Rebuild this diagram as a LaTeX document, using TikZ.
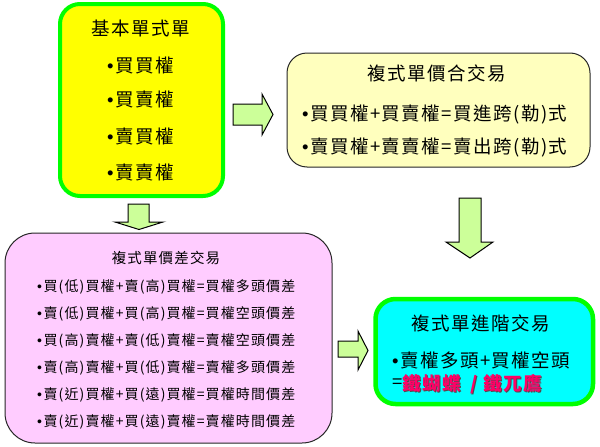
\documentclass[tikz,border=0pt]{standalone}
\usepackage{fontspec}
\newfontfamily\cjk[LetterSpace=8]{Noto Sans CJK TC}
\newfontfamily\latinfont{Liberation Sans}
\newcommand{\bul}{{\latinfont •}\kern1.5pt}
\definecolor{brightgreen}{RGB}{0,255,0}
\definecolor{boxyellow}{RGB}{255,255,0}
\definecolor{paleyellow}{RGB}{255,255,190}
\definecolor{boxpink}{RGB}{255,204,255}
\definecolor{boxcyan}{RGB}{0,255,255}
\definecolor{arrowgreen}{RGB}{204,255,153}
\definecolor{redtext}{RGB}{255,0,102}
\tikzset{
  box/.style={rectangle, inner sep=0pt, rounded corners=#1},
  greenbox/.style={box=20pt, draw=brightgreen, line width=4pt},
  thinbox/.style={box=#1, draw=black!85, line width=1pt},
  barrow/.style={fill=arrowgreen, draw=black, line width=1pt, line join=miter},
  big/.style={inner sep=0pt, font=\cjk\fontsize{18.5}{20}\selectfont},
  small/.style={inner sep=0pt, font=\cjk\fontsize{14}{16}\selectfont},
  smalltitle/.style={inner sep=0pt, font=\cjk\fontsize{14.5}{16}\selectfont},
}
\newcommand{\irontext}{\bfseries 鐵蝴蝶\hspace{9pt}/\hspace{6pt}鐵兀鷹}
\begin{document}
\begin{tikzpicture}[x=1pt,y=-1pt]
\useasboundingbox (0,0) rectangle (600,447);
% boxes
\node[greenbox, fill=boxyellow, minimum width=163pt, minimum height=192pt] (basic) at (141.5,100) {};
\node[thinbox=20pt, fill=paleyellow, minimum width=303pt, minimum height=114pt] (combo) at (438.5,110) {};
\node[thinbox=30pt, fill=boxpink, minimum width=327pt, minimum height=210pt] (spread) at (168.5,338) {};
\node[greenbox, fill=boxcyan, line width=4.5pt, minimum width=217.5pt, minimum height=105pt] (adv) at (484.25,351.5) {};
% arrows
\draw[barrow] (233,104) -- (262,104) -- (262,94) -- (273,114.5) -- (262,135) -- (262,125) -- (233,125) -- cycle;
\draw[barrow] (128,204) -- (149,204) -- (149,222) -- (163,222) -- (139,229.5) -- (115,222) -- (128,222) -- cycle;
\draw[barrow] (459,198) -- (481,198) -- (481,242) -- (493,242) -- (470,258) -- (446,242) -- (459,242) -- cycle;
\draw[barrow] (338,341) -- (358,341) -- (358,331) -- (368,350.5) -- (358,370) -- (358,357) -- (338,357) -- cycle;
% basic box text
\node[big] (t1) at (141,28) {基本單式單};
\node[big, anchor=west] (b1) at (107,65) {\bul 買買權};
\node[big, anchor=west] (b2) at (107,100) {\bul 買賣權};
\node[big, anchor=west] (b3) at (107,137) {\bul 賣買權};
\node[big, anchor=west] (b4) at (107,173) {\bul 賣賣權};
% combo box text
\node[big] (t2) at (437,73) {複式單價合交易};
\node[big, anchor=west] (c1) at (302,115) {\bul 買買權+買賣權=買進跨(勒)式};
\node[big, anchor=west] (c2) at (302,148) {\bul 賣買權+賣賣權=賣出跨(勒)式};
% spread box text
\node[smalltitle] (t3) at (166,258) {複式單價差交易};
\node[small, anchor=west] (s1) at (37,287) {\bul 買(低)買權+賣(高)買權=買權多頭價差};
\node[small, anchor=west] (s2) at (37,314) {\bul 賣(低)買權+買(高)買權=買權空頭價差};
\node[small, anchor=west] (s3) at (37,341) {\bul 買(高)賣權+賣(低)賣權=賣權空頭價差};
\node[small, anchor=west] (s4) at (37,368) {\bul 賣(高)賣權+買(低)賣權=賣權多頭價差};
\node[small, anchor=west] (s5) at (37,395) {\bul 賣(近)買權+買(遠)買權=買權時間價差};
\node[small, anchor=west] (s6) at (37,422) {\bul 賣(近)賣權+買(遠)賣權=賣權時間價差};
% advanced box text
\node[big] (t4) at (481,323) {複式單進階交易};
\node[big, anchor=west] (a1) at (392,360) {\bul 賣權多頭+買權空頭};
\node[big, anchor=west] (a2) at (392,384) {=};
\node[big, anchor=west, text=black!70] (a3s) at (a2.east) [xshift=1pt, yshift=-1pt] {\irontext};
\node[big, anchor=west, text=redtext] (a3) at (a2.east) {\irontext};
\end{tikzpicture}
\end{document}
